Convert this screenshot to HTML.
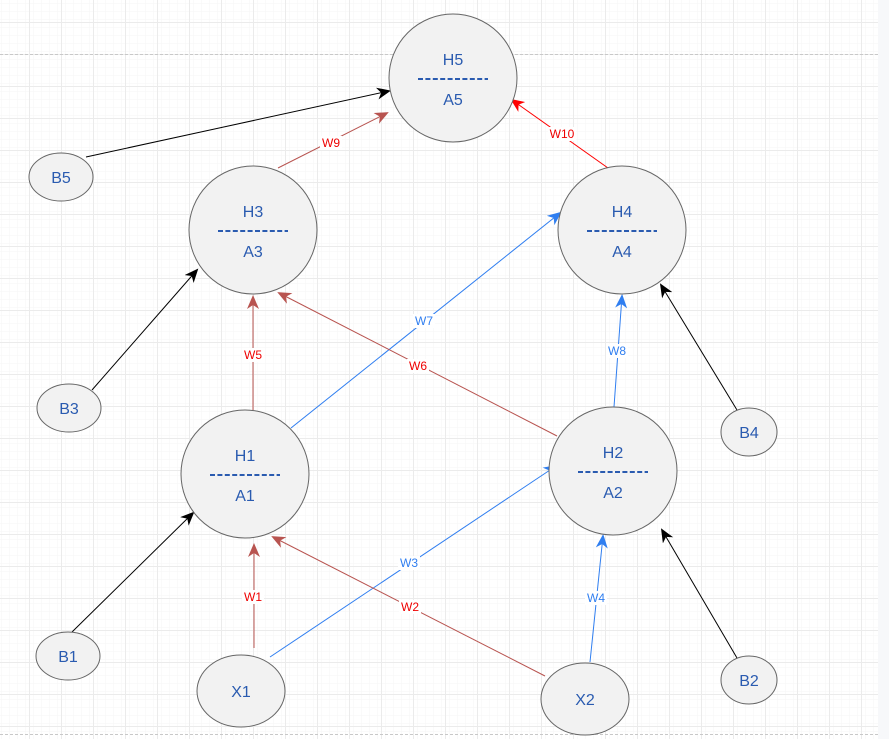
<!DOCTYPE html>
<html><head><meta charset="utf-8"><style>
html,body{margin:0;padding:0;background:#fff;}
svg{display:block;font-family:"Liberation Sans",sans-serif;}
</style></head><body>
<svg width="889" height="739" viewBox="0 0 889 739" xmlns="http://www.w3.org/2000/svg">
<defs>
<pattern id="minor" x="29" y="22" width="8" height="8" patternUnits="userSpaceOnUse">
<path d="M8 0V8M0 8H8" stroke="#f6f6f6" stroke-width="1" fill="none"/></pattern>
<pattern id="major" x="29" y="22" width="32" height="32" patternUnits="userSpaceOnUse">
<rect width="32" height="32" fill="url(#minor)"/>
<path d="M0.5 0V32M0 0.5H32" stroke="#ebebeb" stroke-width="1" fill="none"/></pattern>
<marker id="ak" markerWidth="14" markerHeight="12" refX="12" refY="6" orient="auto" markerUnits="userSpaceOnUse"><path d="M0 0L14 6L0 12L4 6Z" fill="#000"/></marker>
<marker id="ab" markerWidth="14" markerHeight="12" refX="12" refY="6" orient="auto" markerUnits="userSpaceOnUse"><path d="M0 0L14 6L0 12L4 6Z" fill="#b85450"/></marker>
<marker id="au" markerWidth="14" markerHeight="12" refX="12" refY="6" orient="auto" markerUnits="userSpaceOnUse"><path d="M0 0L14 6L0 12L4 6Z" fill="#2f7ef0"/></marker>
<marker id="ar" markerWidth="14" markerHeight="12" refX="12" refY="6" orient="auto" markerUnits="userSpaceOnUse"><path d="M0 0L14 6L0 12L4 6Z" fill="#f00"/></marker>
</defs>
<rect width="878" height="739" fill="url(#major)"/>
<rect x="878" y="0" width="11" height="739" fill="#f7f8fa"/>
<line x1="0" y1="54.5" x2="878" y2="54.5" stroke="#c8c8c8" stroke-dasharray="3,2"/>
<line x1="0" y1="734.5" x2="878" y2="734.5" stroke="#c8c8c8" stroke-dasharray="3,2"/>

<g stroke-width="1" fill="none">
<line x1="86" y1="157" x2="389" y2="91" stroke="#000" marker-end="url(#ak)"/>
<line x1="278" y1="168" x2="387" y2="113" stroke="#b85450" marker-end="url(#ab)"/>
<line x1="608" y1="168" x2="512" y2="100" stroke="#f00" marker-end="url(#ar)"/>
<line x1="92" y1="390" x2="197" y2="270" stroke="#000" marker-end="url(#ak)"/>
<line x1="253" y1="410" x2="253" y2="297" stroke="#b85450" marker-end="url(#ab)"/>
<line x1="291" y1="428" x2="560" y2="213" stroke="#2f7ef0" marker-end="url(#au)"/>
<line x1="557" y1="436" x2="279" y2="293" stroke="#b85450" marker-end="url(#ab)"/>
<line x1="614" y1="407" x2="622" y2="296" stroke="#2f7ef0" marker-end="url(#au)"/>
<line x1="737" y1="410" x2="661" y2="285" stroke="#000" marker-end="url(#ak)"/>
<line x1="72" y1="632" x2="193" y2="513" stroke="#000" marker-end="url(#ak)"/>
<line x1="254" y1="648" x2="254" y2="545" stroke="#b85450" marker-end="url(#ab)"/>
<line x1="270" y1="657" x2="556" y2="466" stroke="#2f7ef0" marker-end="url(#au)"/>
<line x1="545" y1="676" x2="273" y2="537" stroke="#b85450" marker-end="url(#ab)"/>
<line x1="590" y1="662" x2="603" y2="536" stroke="#2f7ef0" marker-end="url(#au)"/>
<line x1="737" y1="658" x2="662" y2="530" stroke="#000" marker-end="url(#ak)"/>
</g>

<g font-size="12" text-anchor="middle">
<g fill="#fff"><rect x="320" y="136" width="22" height="14"/><rect x="548" y="127" width="28" height="14"/><rect x="242" y="348" width="22" height="14"/><rect x="413" y="314" width="22" height="14"/><rect x="407" y="359" width="22" height="14"/><rect x="606" y="344" width="22" height="14"/><rect x="242" y="590" width="22" height="14"/><rect x="398" y="556" width="22" height="14"/><rect x="399" y="600" width="22" height="14"/><rect x="585" y="591" width="22" height="14"/></g>
<g fill="#e00"><text x="331" y="147">W9</text><text x="562" y="138">W10</text><text x="253" y="359">W5</text><text x="418" y="370">W6</text><text x="253" y="601">W1</text><text x="410" y="611">W2</text></g>
<g fill="#2f7ef0"><text x="424" y="325">W7</text><text x="617" y="355">W8</text><text x="409" y="567">W3</text><text x="596" y="602">W4</text></g>
</g>

<g fill="#f2f2f2" stroke="#666" stroke-width="1">
<circle cx="453" cy="78" r="64"/>
<circle cx="253" cy="230" r="64"/>
<circle cx="622" cy="230" r="64"/>
<circle cx="245" cy="474" r="64"/>
<circle cx="613" cy="471" r="64"/>
<ellipse cx="61" cy="177" rx="32" ry="24"/>
<ellipse cx="69" cy="408" rx="32" ry="24"/>
<ellipse cx="749" cy="432" rx="28" ry="24"/>
<ellipse cx="68" cy="656" rx="32" ry="24"/>
<ellipse cx="749" cy="680" rx="28" ry="24"/>
<ellipse cx="241" cy="691" rx="44" ry="36"/>
<ellipse cx="585" cy="699" rx="44" ry="36"/>
</g>

<g fill="#2a5bb0" font-size="16" text-anchor="middle">
<text x="453" y="65">H5</text><text x="453" y="105">A5</text>
<text x="253" y="217">H3</text><text x="253" y="257">A3</text>
<text x="622" y="217">H4</text><text x="622" y="257">A4</text>
<text x="245" y="461">H1</text><text x="245" y="501">A1</text>
<text x="613" y="458">H2</text><text x="613" y="498">A2</text>
<text x="61" y="183">B5</text><text x="69" y="414">B3</text><text x="749" y="438">B4</text>
<text x="68" y="662">B1</text><text x="749" y="686">B2</text>
<text x="241" y="697">X1</text><text x="585" y="705">X2</text>
</g>
<g stroke="#2a5bb0" stroke-width="2" stroke-dasharray="5,2.4">
<line x1="418" y1="79" x2="488" y2="79"/>
<line x1="218" y1="231" x2="288" y2="231"/>
<line x1="587" y1="231" x2="657" y2="231"/>
<line x1="210" y1="475" x2="280" y2="475"/>
<line x1="578" y1="472" x2="648" y2="472"/>
</g>
</svg>
</body></html>
